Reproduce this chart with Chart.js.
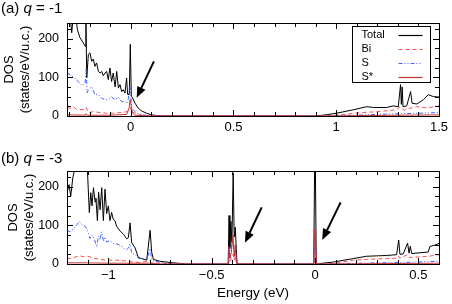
<!DOCTYPE html>
<html>
<head>
<meta charset="utf-8">
<script src="https://cdn.jsdelivr.net/npm/chart.js@4.4.1/dist/chart.umd.min.js"></script>
<style>
  html, body { margin: 0; padding: 0; background: #fff; }
  #wrap { position: relative; width: 452px; height: 304px; overflow: hidden; }
  canvas { position: absolute; left: 0; }
  #chartA { top: 0; }
  #chartB { top: 150px; }
</style>
</head>
<body>
<div id="wrap">
  <canvas id="chartA" width="452" height="150"></canvas>
  <canvas id="chartB" width="452" height="154"></canvas>
</div>
<script>
// ---- data: [energy (eV), DOS (states/eV/u.c.)] ----
const seriesNames = ['Total', 'Bi', 'S', 'S*'];

// panel (a) q = -1
const aTotal = [[-0.31,260],[-0.295,260],[-0.287,215],[-0.279,260],[-0.266,255],[-0.26,224],[-0.247,202],[-0.231,189],[-0.222,180],[-0.218,260],[-0.214,98],[-0.206,159],[-0.198,163],[-0.19,141],[-0.182,147],[-0.174,128],[-0.166,137],[-0.157,115],[-0.149,111],[-0.141,115],[-0.133,104],[-0.125,111],[-0.117,115],[-0.109,94],[-0.101,124],[-0.093,89],[-0.085,111],[-0.076,75],[-0.068,115],[-0.06,72],[-0.052,81],[-0.044,63],[-0.036,68],[-0.028,59],[-0.02,98],[-0.015,56],[-0.007,55],[-0.002,185],[0.003,50],[0.008,48],[0.021,33],[0.037,20],[0.053,13],[0.078,7],[0.102,3],[0.126,1],[0.15,0],[0.9,0],[0.95,3],[1.0,7],[1.083,16],[1.148,24],[1.181,22],[1.213,22],[1.245,22],[1.278,26],[1.302,24],[1.313,81],[1.317,30],[1.321,75],[1.325,24],[1.343,26],[1.362,63],[1.369,33],[1.392,31],[1.424,42],[1.448,55],[1.473,50],[1.5,49]];
const aBi = [[-0.31,22],[-0.295,20],[-0.28,24],[-0.265,18],[-0.247,16],[-0.225,17],[-0.217,22],[-0.206,9],[-0.182,11],[-0.149,9],[-0.117,7],[-0.085,7],[-0.052,9],[-0.02,11],[-0.005,14],[0.0,22],[0.005,10],[0.013,9],[0.045,3],[0.1,0],[0.95,0],[1.033,4],[1.131,9],[1.196,11],[1.293,16],[1.31,24],[1.33,15],[1.359,20],[1.392,24],[1.44,21],[1.5,26]];
const aS = [[-0.31,111],[-0.295,107],[-0.279,101],[-0.256,89],[-0.236,78],[-0.222,85],[-0.217,120],[-0.212,60],[-0.206,68],[-0.19,75],[-0.174,55],[-0.157,55],[-0.141,46],[-0.125,42],[-0.109,42],[-0.093,49],[-0.076,42],[-0.06,48],[-0.044,37],[-0.028,37],[-0.015,33],[-0.003,75],[0.005,20],[0.029,7],[0.06,3],[0.1,0],[0.95,0],[1.083,2],[1.245,5],[1.4,7],[1.5,9]];
const aSstar = [[-0.31,3],[-0.22,2],[-0.217,6],[-0.212,2],[-0.1,2],[-0.02,4],[-0.008,20],[-0.003,42],[0.002,28],[0.008,8],[0.02,2],[0.08,0],[0.95,0],[1.1,1],[1.3,2],[1.5,3]];

// panel (b) q = -3
const bTotal = [[-1.2,170],[-1.198,188],[-1.19,205],[-1.182,175],[-1.172,222],[-1.161,250],[-1.137,260],[-1.121,250],[-1.101,240],[-1.092,133],[-1.085,184],[-1.079,150],[-1.072,197],[-1.064,160],[-1.06,170],[-1.053,112],[-1.047,185],[-1.04,140],[-1.032,197],[-1.024,112],[-1.016,193],[-1.008,130],[-1.0,150],[-0.992,112],[-0.984,133],[-0.976,115],[-0.968,112],[-0.96,97],[-0.943,85],[-0.927,77],[-0.911,65],[-0.903,68],[-0.895,106],[-0.887,55],[-0.871,42],[-0.855,17],[-0.839,14],[-0.814,10],[-0.798,87],[-0.79,30],[-0.782,12],[-0.75,7],[-0.685,3],[-0.621,0],[-0.42,0],[-0.416,125],[-0.412,40],[-0.407,110],[-0.402,55],[-0.396,235],[-0.391,70],[-0.386,95],[-0.381,40],[-0.377,0],[-0.006,0],[-0.002,245],[0.002,245],[0.006,0],[0.02,1],[0.089,5],[0.185,14],[0.25,20],[0.298,21],[0.347,22],[0.395,24],[0.405,62],[0.411,25],[0.427,26],[0.448,54],[0.455,28],[0.461,46],[0.468,27],[0.508,29],[0.548,31],[0.556,45],[0.581,49],[0.6,53]];
const bBi = [[-1.2,15],[-1.185,14],[-1.16,18],[-1.14,21],[-1.12,19],[-1.1,20],[-1.07,15],[-1.04,12],[-1.01,10],[-0.96,10],[-0.92,8],[-0.88,5],[-0.85,4],[-0.8,8],[-0.79,3],[-0.75,2],[-0.7,0],[-0.42,0],[-0.417,20],[-0.41,8],[-0.403,15],[-0.396,25],[-0.391,10],[-0.386,20],[-0.38,5],[-0.376,0],[-0.006,0],[-0.002,30],[0.002,30],[0.006,0],[0.1,2],[0.185,10],[0.25,12],[0.35,14],[0.4,15],[0.405,20],[0.41,15],[0.448,24],[0.455,17],[0.5,18],[0.55,20],[0.6,24]];
const bS = [[-1.2,87],[-1.185,83],[-1.169,90],[-1.153,101],[-1.14,110],[-1.129,103],[-1.113,98],[-1.101,87],[-1.089,66],[-1.08,75],[-1.069,66],[-1.056,44],[-1.048,72],[-1.04,62],[-1.032,83],[-1.024,60],[-1.016,70],[-1.008,57],[-0.992,60],[-0.976,53],[-0.96,52],[-0.943,48],[-0.927,41],[-0.911,37],[-0.903,41],[-0.895,52],[-0.887,28],[-0.871,25],[-0.855,15],[-0.83,13],[-0.81,18],[-0.798,40],[-0.79,10],[-0.782,8],[-0.75,5],[-0.69,0],[-0.42,0],[-0.417,40],[-0.41,15],[-0.403,60],[-0.396,55],[-0.391,20],[-0.386,35],[-0.38,10],[-0.376,0],[-0.006,0],[-0.002,70],[0.002,60],[0.006,0],[0.2,2],[0.4,4],[0.5,5],[0.6,7]];
const bSstar = [[-1.2,3],[-1.1,3],[-1.0,2],[-0.9,2],[-0.8,2],[-0.75,0],[-0.42,0],[-0.417,45],[-0.412,15],[-0.405,30],[-0.397,74],[-0.391,20],[-0.386,50],[-0.381,10],[-0.376,0],[-0.006,0],[-0.002,90],[0.002,80],[0.006,0],[0.3,1],[0.6,2]];

// tick labels
const xLabelsA = [0, 0.5, 1, 1.5];
const xLabelsB = [-1, -0.5, 0, 0.5];
const yLabels = [0, 100, 200];

// arrows [fromE, fromDOS, toE, toDOS]
const arrowsA = [[0.113, 141, 0.029, 47]];
const arrowsB = [[-0.258, 146, -0.339, 55], [0.124, 159, 0.035, 62]];

// ---- styles ----
const FONT = "'Liberation Sans', Arial, Helvetica, sans-serif";
Chart.defaults.font.family = FONT;
Chart.defaults.color = '#000';

const seriesColors = ['#000000', '#ff4b4b', '#3f5fff', '#c83232'];
const seriesDash = [[], [4, 3], [4, 2, 1, 2, 1, 2], []];

function stepTicks(min, max, step) {
  const out = [];
  const start = Math.ceil(min / step - 1e-9);
  const end = Math.floor(max / step + 1e-9);
  for (let i = start; i <= end; i++) out.push(Math.round(i * step * 1000) / 1000);
  return out;
}
const isIn = (v, list) => list.some(l => Math.abs(l - v) < 1e-6);
const fmt = v => (v < 0 ? '\u2212' + Math.abs(v) : String(v));

// frame + inward ticks on all four sides
const framePlugin = {
  id: 'frame',
  afterDatasetsDraw(chart) {
    const { ctx, chartArea: a, scales: { x, y } } = chart;
    const xl = chart.options.plugins.frame.xLabels;
    ctx.save();
    ctx.strokeStyle = '#000';
    ctx.lineWidth = 1;
    ctx.beginPath();
    x.ticks.forEach(t => {
      const px = Math.round(x.getPixelForValue(t.value)) + 0.5;
      const len = isIn(t.value, xl) ? 6 : 4;
      ctx.moveTo(px, a.bottom); ctx.lineTo(px, a.bottom - len);
      ctx.moveTo(px, a.top); ctx.lineTo(px, a.top + len);
    });
    y.ticks.forEach(t => {
      const py = Math.round(y.getPixelForValue(t.value)) + 0.5;
      const len = isIn(t.value, yLabels) ? 6 : 4;
      ctx.moveTo(a.left, py); ctx.lineTo(a.left + len, py);
      ctx.moveTo(a.right, py); ctx.lineTo(a.right - len, py);
    });
    ctx.stroke();
    ctx.strokeRect(Math.round(a.left) + 0.5, Math.round(a.top) + 0.5,
      Math.round(a.right - a.left), Math.round(a.bottom - a.top));
    ctx.restore();
  }
};

// panel title with italic q
const titlePlugin = {
  id: 'panelTitle',
  afterDraw(chart, args, opts) {
    const ctx = chart.ctx;
    ctx.save();
    ctx.fillStyle = '#000';
    ctx.textBaseline = 'middle';
    let x = 1;
    [[opts.label + ' ', 'normal'], ['q', 'italic'], [' = ' + opts.q, 'normal']].forEach(([t, st]) => {
      ctx.font = st + ' 15px ' + FONT;
      ctx.fillText(t, x, opts.y);
      x += ctx.measureText(t).width;
    });
    ctx.restore();
  }
};

// arrows placed in data coordinates
const arrowPlugin = {
  id: 'arrows',
  afterDatasetsDraw(chart, args, opts) {
    const { ctx, scales: { x, y } } = chart;
    (opts.list || []).forEach(([e1, d1, e2, d2]) => {
      const x1 = x.getPixelForValue(e1), y1 = y.getPixelForValue(d1);
      const x2 = x.getPixelForValue(e2), y2 = y.getPixelForValue(d2);
      const ang = Math.atan2(y2 - y1, x2 - x1);
      const L = 11, W = 4.5;
      const bx = x2 - L * Math.cos(ang), by = y2 - L * Math.sin(ang);
      ctx.save();
      ctx.strokeStyle = '#000';
      ctx.fillStyle = '#000';
      ctx.lineWidth = 2;
      ctx.beginPath();
      ctx.moveTo(x1, y1); ctx.lineTo(bx, by);
      ctx.stroke();
      ctx.beginPath();
      ctx.moveTo(x2, y2);
      ctx.lineTo(bx - W * Math.sin(ang), by + W * Math.cos(ang));
      ctx.lineTo(bx + W * Math.sin(ang), by - W * Math.cos(ang));
      ctx.closePath();
      ctx.fill();
      ctx.restore();
    });
  }
};

// legend: text on the left, line sample on the right, boxed
const legendPlugin = {
  id: 'dosLegend',
  afterDraw(chart, args, opts) {
    if (!opts.display) return;
    const { ctx, chartArea: a } = chart;
    const left = Math.round(a.right - 87) + 0.5, top = Math.round(a.top + 3) + 0.5;
    ctx.save();
    ctx.fillStyle = '#fff';
    ctx.fillRect(left, top, 78, 56);
    ctx.strokeStyle = '#000';
    ctx.lineWidth = 1;
    ctx.strokeRect(left, top, 78, 56);
    ctx.font = '11px ' + FONT;
    ctx.textBaseline = 'middle';
    chart.data.datasets.forEach((ds, i) => {
      const yy = top + 8 + i * 14.1;
      ctx.fillStyle = '#000';
      ctx.fillText(ds.label, left + 9, yy);
      ctx.strokeStyle = ds.borderColor;
      ctx.lineWidth = 1.2;
      ctx.setLineDash(ds.borderDash);
      ctx.beginPath();
      ctx.moveTo(left + 46, Math.round(yy) + 0.5);
      ctx.lineTo(left + 70, Math.round(yy) + 0.5);
      ctx.stroke();
      ctx.setLineDash([]);
    });
    ctx.restore();
  }
};

function makePanel(id, p) {
  const ctx = document.getElementById(id).getContext('2d');
  return new Chart(ctx, {
    type: 'line',
    data: {
      datasets: p.series.map((s, i) => ({
        label: seriesNames[i],
        data: s.map(pt => ({ x: pt[0], y: pt[1] })),
        borderColor: seriesColors[i],
        borderDash: seriesDash[i],
        borderWidth: 1,
        pointRadius: 0,
        tension: 0,
        fill: false,
        order: 4 - i
      }))
    },
    options: {
      responsive: false,
      animation: false,
      events: [],
      layout: { padding: { top: p.top, right: 13, left: 0, bottom: 0 } },
      plugins: {
        legend: { display: false },
        tooltip: { enabled: false },
        frame: { xLabels: p.xLabels },
        panelTitle: { label: p.label, q: p.q, y: p.titleY },
        arrows: { list: p.arrows },
        dosLegend: { display: p.legend }
      },
      scales: {
        x: {
          type: 'linear',
          min: p.xMin,
          max: p.xMax,
          afterBuildTicks: s => { s.ticks = stepTicks(p.xMin, p.xMax, 0.1).map(v => ({ value: v })); },
          afterFit: s => { s.height = p.xHeight; },
          grid: { display: false, drawTicks: false },
          border: { display: false },
          ticks: {
            autoSkip: false, maxRotation: 0, padding: 4, font: { size: 13 },
            callback: v => (isIn(v, p.xLabels) ? fmt(v) : '')
          },
          title: p.xTitle
        },
        y: {
          min: 0,
          max: 240,
          afterBuildTicks: s => { s.ticks = stepTicks(0, 225, 25).map(v => ({ value: v })); },
          afterFit: s => { s.width = 67; },
          grid: { display: false, drawTicks: false },
          border: { display: false },
          ticks: {
            autoSkip: false, padding: 8, font: { size: 12.5 },
            callback: v => (isIn(v, yLabels) ? String(v) : '')
          },
          title: {
            display: true,
            text: ['DOS', '(states/eV/u.c.)'],
            font: { size: 13, lineHeight: 1.2 },
            padding: { top: p.yTitlePad, bottom: 0 }
          }
        }
      }
    },
    plugins: [framePlugin, arrowPlugin, titlePlugin, legendPlugin]
  });
}

makePanel('chartA', {
  series: [aTotal, aBi, aS, aSstar],
  label: '(a)', q: '-1', titleY: 9,
  xMin: -0.31, xMax: 1.5, xLabels: xLabelsA,
  top: 23, xHeight: 34, yTitlePad: 2,
  arrows: arrowsA, legend: true,
  xTitle: { display: false }
});

makePanel('chartB', {
  series: [bTotal, bBi, bS, bSstar],
  label: '(b)', q: '-3', titleY: 8.5,
  xMin: -1.2, xMax: 0.6, xLabels: xLabelsB,
  top: 21, xHeight: 40, yTitlePad: 6,
  arrows: arrowsB, legend: false,
  xTitle: { display: true, text: 'Energy (eV)', font: { size: 13.5 }, padding: { top: 2, bottom: 3 } }
});
</script>
</body>
</html>
